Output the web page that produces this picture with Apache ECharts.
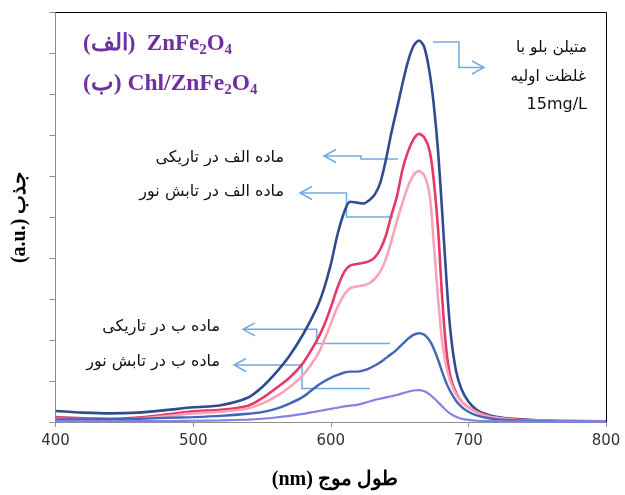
<!DOCTYPE html>
<html>
<head>
<meta charset="utf-8">
<script src="https://cdn.jsdelivr.net/npm/echarts@6/dist/echarts.min.js"></script>
<style>
  html, body { margin: 0; padding: 0; background: #ffffff; }
  #chart { width: 625px; height: 495px; }
</style>
</head>
<body>
<div id="chart"></div>
<script>
// Wavelength grid (nm) shared by every absorbance curve
const wavelengths = [400, 420, 440, 460, 480, 500, 520, 540, 550, 560, 570, 580, 590, 595, 600, 605, 610, 614, 619, 624, 628, 632, 636, 640, 644, 648, 652, 656, 660, 664, 668, 672, 675, 678, 681, 684, 687, 691, 695, 700, 706, 712, 720, 735, 760, 800];

// Methylene blue, initial concentration 15 mg/L
const initialMB = [0.27, 0.23, 0.21, 0.23, 0.29, 0.36, 0.41, 0.60, 0.85, 1.20, 1.62, 2.15, 2.80, 3.25, 3.85, 4.60, 5.15, 5.38, 5.36, 5.34, 5.42, 5.56, 5.85, 6.40, 7.06, 7.65, 8.25, 8.80, 9.18, 9.32, 9.15, 8.50, 7.70, 6.60, 5.10, 3.50, 2.20, 1.25, 0.80, 0.50, 0.30, 0.20, 0.13, 0.07, 0.03, 0.02];
// Material A (ZnFe2O4) in the dark
const matADark = [0.12, 0.09, 0.08, 0.11, 0.18, 0.26, 0.30, 0.40, 0.58, 0.82, 1.08, 1.45, 2.00, 2.35, 2.80, 3.30, 3.68, 3.82, 3.86, 3.89, 3.93, 4.02, 4.22, 4.55, 5.05, 5.50, 6.15, 6.60, 6.90, 7.04, 6.95, 6.60, 5.85, 4.70, 3.00, 1.75, 1.10, 0.72, 0.50, 0.36, 0.25, 0.17, 0.11, 0.06, 0.03, 0.02];
// Material A under irradiation
const matALight = [0.08, 0.06, 0.05, 0.08, 0.14, 0.21, 0.25, 0.33, 0.45, 0.62, 0.85, 1.15, 1.62, 1.98, 2.40, 2.82, 3.12, 3.27, 3.31, 3.34, 3.39, 3.50, 3.68, 3.98, 4.42, 4.90, 5.35, 5.75, 6.02, 6.13, 6.02, 5.50, 4.30, 3.00, 1.95, 1.35, 0.98, 0.68, 0.50, 0.35, 0.24, 0.16, 0.10, 0.05, 0.03, 0.02];
// Material B (Chl/ZnFe2O4) in the dark
const matBDark = [0.06, 0.06, 0.07, 0.08, 0.10, 0.12, 0.15, 0.20, 0.24, 0.32, 0.45, 0.62, 0.88, 0.99, 1.08, 1.15, 1.21, 1.23, 1.23, 1.26, 1.31, 1.38, 1.46, 1.56, 1.66, 1.77, 1.90, 2.03, 2.13, 2.17, 2.13, 1.98, 1.78, 1.52, 1.22, 0.95, 0.74, 0.52, 0.37, 0.25, 0.16, 0.11, 0.07, 0.04, 0.02, 0.01];
// Material B under irradiation
const matBLight = [0.02, 0.02, 0.02, 0.02, 0.02, 0.03, 0.04, 0.06, 0.08, 0.11, 0.15, 0.20, 0.26, 0.29, 0.32, 0.35, 0.38, 0.40, 0.42, 0.46, 0.50, 0.54, 0.57, 0.60, 0.63, 0.66, 0.70, 0.74, 0.77, 0.78, 0.75, 0.67, 0.58, 0.48, 0.38, 0.28, 0.20, 0.13, 0.08, 0.05, 0.03, 0.02, 0.02, 0.01, 0.01, 0.01];

// Axis ranges and titles
const xRange = [400, 800];
const xStep = 100;
const yRange = [0, 10];
const yStep = 1;
const xTitle = '(nm) طول موج';
const yTitle = '(a.u.) جذب';

// Caption texts
const legendLineA = ['(الف)  ZnFe', '2', 'O', '4'];
const legendLineB = ['(ب) Chl/ZnFe', '2', 'O', '4'];
const concentrationNote = ['متیلن بلو با', 'غلظت اولیه', '15mg/L'];
const curveNotes = ['ماده الف در تاریکی', 'ماده الف در تابش نور', 'ماده ب در تاریکی', 'ماده ب در تابش نور'];

const pairs = vals => wavelengths.map((w, i) => [w, vals[i]]);

const curveStyles = [
  { data: initialMB, color: '#2F4D8E', width: 2.6 },
  { data: matADark,  color: '#E5396A', width: 2.6 },
  { data: matALight, color: '#F6A5B9', width: 2.6 },
  { data: matBDark,  color: '#4265B5', width: 2.4 },
  { data: matBLight, color: '#8383E6', width: 2.2 }
];

const arrowColor = '#74A9DE';
const noteFont = { fontFamily: 'DejaVu Sans', fontSize: 16, fill: '#111111' };

// Elbow connectors with open arrow heads
function connector(points, dir) {
  const tip = points[points.length - 1];
  const L = 12, H = 6.5;
  const head = dir === 'right'
    ? [[tip[0] - L, tip[1] - H], tip, [tip[0] - L, tip[1] + H]]
    : [[tip[0] + L, tip[1] - H], tip, [tip[0] + L, tip[1] + H]];
  return [
    { type: 'polyline', silent: true, shape: { points: points }, style: { stroke: arrowColor, lineWidth: 1.5, fill: null } },
    { type: 'polyline', silent: true, shape: { points: head }, style: { stroke: arrowColor, lineWidth: 1.5, fill: null } }
  ];
}

function note(text, x, y, size) {
  return { type: 'text', silent: true, style: Object.assign({}, noteFont, { text: text, x: x, y: y, align: 'right', verticalAlign: 'middle', fontSize: size || noteFont.fontSize }) };
}

function formula(parts, x, y, size) {
  const big = size || 23;
  return {
    type: 'text', silent: true,
    style: {
      x: x, y: y,
      text: '{a|' + parts[0] + '}{s|' + parts[1] + '}{a|' + parts[2] + '}{s|' + parts[3] + '}',
      rich: {
        a: { fontFamily: 'Liberation Serif', fontWeight: 'bold', fontSize: big, fill: '#7030A0', lineHeight: 28, verticalAlign: 'middle' },
        s: { fontFamily: 'Liberation Serif', fontWeight: 'bold', fontSize: Math.round(big * 0.65), fill: '#7030A0', lineHeight: 28, verticalAlign: 'bottom' }
      }
    }
  };
}

const graphics = []
  .concat(connector([[433, 42], [459, 42], [459, 67.5], [484, 67.5]], 'right'))
  .concat(connector([[398, 159], [361, 159], [361, 156], [324, 156]], 'left'))
  .concat(connector([[393, 217], [346.5, 217], [346.5, 193], [300, 193]], 'left'))
  .concat(connector([[390, 343.5], [316.7, 343.5], [316.7, 329.3], [243, 329.3]], 'left'))
  .concat(connector([[370, 388.5], [302, 388.5], [302, 365], [234, 365]], 'left'))
  .concat([
    note(concentrationNote[0], 587, 48, 15.5),
    note(concentrationNote[1], 586, 77, 15.5),
    note(concentrationNote[2], 587, 105),
    note(curveNotes[0], 284, 158),
    note(curveNotes[1], 284, 192),
    note(curveNotes[2], 220, 327),
    note(curveNotes[3], 220, 362),
    formula(legendLineA, 83, 30),
    formula(legendLineB, 83, 70, 23.5)
  ]);

const chart = echarts.init(document.getElementById('chart'), null, { renderer: 'canvas' });

chart.setOption({
  animation: false,
  backgroundColor: '#ffffff',
  grid: { left: 55.6, right: 19, top: 12.7, bottom: 73, containLabel: false },
  xAxis: [
    {
      type: 'value', min: xRange[0], max: xRange[1], interval: xStep,
      name: xTitle, nameLocation: 'middle', nameGap: 48,
      nameTextStyle: { fontFamily: 'Liberation Serif', fontWeight: 'bold', fontSize: 20, color: '#000000', padding: [0, 0, 0, 8] },
      axisLine: { show: true, onZero: false, lineStyle: { color: '#8C8C8C', width: 1 } },
      axisTick: { show: true, inside: false, length: 5, lineStyle: { color: '#8C8C8C' } },
      axisLabel: { show: true, margin: 12, fontFamily: 'DejaVu Sans', fontSize: 15, color: '#333333' },
      splitLine: { show: false }
    },
    {
      type: 'value', position: 'top', min: xRange[0], max: xRange[1],
      axisLine: { show: true, onZero: false, lineStyle: { color: '#000000', width: 1 } },
      axisTick: { show: false }, axisLabel: { show: false }, splitLine: { show: false }
    }
  ],
  yAxis: [
    {
      type: 'value', min: yRange[0], max: yRange[1], interval: yStep,
      name: yTitle, nameLocation: 'middle', nameGap: 26, nameRotate: 90,
      nameTextStyle: { fontFamily: 'Liberation Serif', fontWeight: 'bold', fontSize: 20, color: '#000000' },
      axisLine: { show: true, onZero: false, lineStyle: { color: '#8C8C8C', width: 1 } },
      axisTick: { show: true, inside: false, length: 6, lineStyle: { color: '#8C8C8C' } },
      axisLabel: { show: false },
      splitLine: { show: false }
    },
    {
      type: 'value', position: 'right', min: yRange[0], max: yRange[1],
      axisLine: { show: true, onZero: false, lineStyle: { color: '#000000', width: 1 } },
      axisTick: { show: false }, axisLabel: { show: false }, splitLine: { show: false }
    }
  ],
  graphic: graphics,
  series: curveStyles.map(c => ({
    type: 'line',
    xAxisIndex: 0, yAxisIndex: 0,
    data: pairs(c.data),
    smooth: 0.3,
    showSymbol: false,
    symbol: 'none',
    clip: true,
    lineStyle: { color: c.color, width: c.width },
    z: 3
  }))
});
</script>
</body>
</html>
